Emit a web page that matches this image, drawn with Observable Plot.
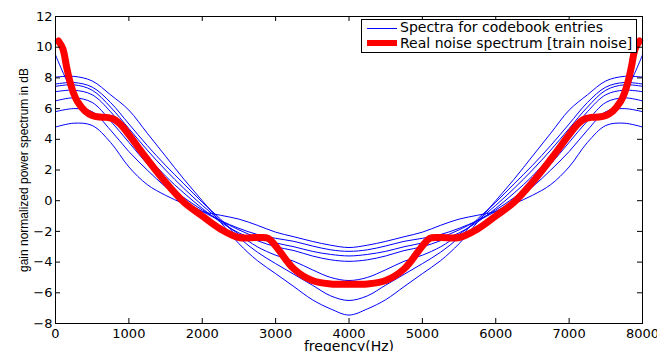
<!DOCTYPE html>
<html>
<head>
<meta charset="utf-8">
<script src="https://cdn.jsdelivr.net/npm/d3@7"></script>
<script src="https://cdn.jsdelivr.net/npm/@observablehq/plot@0.6"></script>
<style>
  body { margin: 0; background: #fff; }
  #wrap { position: relative; width: 657px; height: 351px; overflow: hidden; }
  #legend { position: absolute; left: 361px; top: 19px; width: 274px; height: 32px;
            border: 1px solid #000; background: #fff; font-family: "DejaVu Sans", sans-serif;
            font-size: 14px; color: #000; }
  #legend .sw { position: absolute; left: 5px; width: 30px; }
  #legend .lbl { position: absolute; left: 38px; line-height: 15px; white-space: nowrap; }
</style>
</head>
<body>
<div id="wrap"></div>
<script>
// ---- data ----
const freqs = [0,250,500,750,1000,1250,1500,1750,2000,2250,2500,2750,3000,3250,3500,3750,4000,4250,4500,4750,5000,5250,5500,5750,6000,6250,6500,6750,7000,7250,7500,7750,8000];

const cb1 = [8.05, 8.1, 7.8, 6.9, 5.9, 4.4, 2.9, 1.4, 0.0, -1.4, -2.8, -3.9, -4.75, -5.6, -6.45, -7.05, -7.45, -7.05, -6.45, -5.6, -4.75, -3.9, -2.8, -1.4, 0.0, 1.4, 2.9, 4.4, 5.9, 6.9, 7.8, 8.1, 8.05];
const cb2 = [7.6, 7.7, 7.4, 6.4, 5.0, 3.6, 2.3, 1.1, -0.1, -1.2, -2.4, -3.35, -4.1, -4.8, -5.5, -6.2, -6.5, -6.2, -5.5, -4.8, -4.1, -3.35, -2.4, -1.2, -0.1, 1.1, 2.3, 3.6, 5.0, 6.4, 7.4, 7.7, 7.6];
const cb3 = [7.45, 7.55, 7.2, 6.1, 4.7, 3.3, 2.0, 0.8, -0.3, -1.3, -2.2, -3.0, -3.55, -3.95, -4.5, -5.0, -5.2, -5.0, -4.5, -3.95, -3.55, -3.0, -2.2, -1.3, -0.3, 0.8, 2.0, 3.3, 4.7, 6.1, 7.2, 7.55, 7.45];
const cb4 = [7.1, 7.2, 6.9, 5.8, 4.3, 2.9, 1.6, 0.5, -0.5, -1.4, -2.1, -2.6, -3.0, -3.25, -3.6, -3.85, -3.95, -3.85, -3.6, -3.25, -3.0, -2.6, -2.1, -1.4, -0.5, 0.5, 1.6, 2.9, 4.3, 5.8, 6.9, 7.2, 7.1];
const cb5 = [6.5, 6.7, 6.4, 5.2, 3.8, 2.4, 1.2, 0.2, -0.6, -1.3, -1.9, -2.4, -2.75, -3.0, -3.3, -3.5, -3.6, -3.5, -3.3, -3.0, -2.75, -2.4, -1.9, -1.3, -0.6, 0.2, 1.2, 2.4, 3.8, 5.2, 6.4, 6.7, 6.5];
const cb6 = [5.8, 6.0, 5.8, 4.6, 3.2, 2.0, 0.9, 0.0, -0.7, -1.3, -1.8, -2.2, -2.45, -2.65, -2.95, -3.2, -3.3, -3.2, -2.95, -2.65, -2.45, -2.2, -1.8, -1.3, -0.7, 0.0, 0.9, 2.0, 3.2, 4.6, 5.8, 6.0, 5.8];
const cb7 = [4.8, 5.05, 4.9, 3.8, 2.2, 1.05, 0.35, -0.2, -0.7, -0.95, -1.2, -1.6, -2.05, -2.35, -2.65, -2.9, -3.05, -2.9, -2.65, -2.35, -2.05, -1.6, -1.2, -0.95, -0.7, -0.2, 0.35, 1.05, 2.2, 3.8, 4.9, 5.05, 4.8];
const cb8 = [9.5, 6.95, 5.55, 5.4, 4.3, 2.7, 1.2, -0.1, -1.0, -1.85, -2.4, -2.4, -2.95, -4.45, -5.2, -5.42, -5.45, -5.42, -5.2, -4.45, -2.95, -2.4, -2.4, -1.85, -1.0, -0.1, 1.2, 2.7, 4.3, 5.4, 5.55, 6.95, 9.5];

const redFreqs = [40,100,150,200,250,300,400,500,600,700,800,900,1000,1250,1500,1750,2000,2250,2500,2750,2900,3000,3250,3500,3750,4000,4250,4500,4750,5000,5100,5250,5500,5750,6000,6250,6500,6750,7000,7100,7200,7300,7400,7500,7600,7700,7750,7800,7850,7900,7960];
const redVals = [10.4, 9.9, 8.75, 7.7, 6.95, 6.45, 5.85, 5.55, 5.45, 5.43, 5.3, 4.9, 4.3, 2.7, 1.2, -0.1, -1.0, -1.85, -2.4, -2.4, -2.45, -2.95, -4.45, -5.2, -5.42, -5.45, -5.42, -5.2, -4.45, -2.95, -2.45, -2.4, -2.4, -1.85, -1.0, -0.1, 1.2, 2.7, 4.3, 4.9, 5.3, 5.43, 5.45, 5.55, 5.85, 6.45, 6.95, 7.7, 8.75, 9.9, 10.4];

const xTicks = [0,1000,2000,3000,4000,5000,6000,7000,8000];
const xTickLabels = ["0","1000","2000","3000","4000","5000","6000","7000","8000"];
const yTicks = [-8,-6,-4,-2,0,2,4,6,8,10,12];
const yTickLabels = ["\u22128","\u22126","\u22124","\u22122","0","2","4","6","8","10","12"];
const xLabel = "freqency(Hz)";
const yLabel = "gain normalized power spectrum in dB";
const legendLabels = ["Spectra for codebook entries", "Real noise spectrum [train noise]"];

// ---- tables ----
const codebook = [cb1, cb2, cb3, cb4, cb5, cb6, cb7, cb8];
const blueData = codebook.flatMap((vals, k) => vals.map((v, i) => ({f: freqs[i], v, id: k})));
const redData = redFreqs.map((f, i) => ({f, v: redVals[i]}));

const W = 657, H = 351, mL = 55, mR = 15, mT = 16, mB = 28;
const pw = W - mL - mR, ph = H - mT - mB, tk = 5;

const chart = Plot.plot({
  width: W, height: H,
  marginLeft: mL, marginRight: mR, marginTop: mT, marginBottom: mB,
  x: {domain: [0, 8000], label: null},
  y: {domain: [-8, 12], label: null},
  style: {fontFamily: "DejaVu Sans, sans-serif", fontSize: "13px", background: "white", color: "black", overflow: "visible"},
  marks: [
    Plot.line(blueData, {x: "f", y: "v", z: "id", stroke: "#0000ff", strokeWidth: 1, curve: "catmull-rom"}),
    Plot.line(redData, {x: "f", y: "v", stroke: "#ff0000", strokeWidth: 7, curve: "catmull-rom", strokeLinecap: "round", strokeLinejoin: "round"}),
    Plot.frame({stroke: "black", strokeWidth: 1}),
    Plot.tickX(xTicks, {x: d => d, insetTop: ph - tk, stroke: "black"}),
    Plot.tickX(xTicks, {x: d => d, insetBottom: ph - tk, stroke: "black"}),
    Plot.tickY(yTicks, {y: d => d, insetRight: pw - tk, stroke: "black"}),
    Plot.tickY(yTicks, {y: d => d, insetLeft: pw - tk, stroke: "black"}),
    Plot.axisX({ticks: xTicks, tickSize: 0, tickPadding: 5, label: null, fontSize: 13,
                tickFormat: d => xTickLabels[xTicks.indexOf(d)]}),
    Plot.axisY({ticks: yTicks, tickSize: 0, tickPadding: 3, label: null, fontSize: 13,
                tickFormat: d => yTickLabels[yTicks.indexOf(d)]}),
    Plot.text([xLabel], {text: d => d, frameAnchor: "bottom", textAnchor: "middle", dy: 27, fontSize: 14, fill: "black"}),
    Plot.text([yLabel], {text: d => d, frameAnchor: "left", textAnchor: "middle", rotate: -90, dx: -31, fontSize: 12, fill: "black",
                         fontFamily: "Liberation Sans, Arial, sans-serif"})
  ]
});

const wrap = document.getElementById("wrap");
wrap.appendChild(chart);

// legend
const lg = document.createElement("div");
lg.id = "legend";
lg.innerHTML =
  `<div class="sw" style="top:8px;height:1px;background:#0000ff"></div>` +
  `<div class="lbl" style="top:0px">${legendLabels[0]}</div>` +
  `<div class="sw" style="top:20px;height:6px;background:#ff0000"></div>` +
  `<div class="lbl" style="top:16px">${legendLabels[1]}</div>`;
wrap.appendChild(lg);
</script>
</body>
</html>
